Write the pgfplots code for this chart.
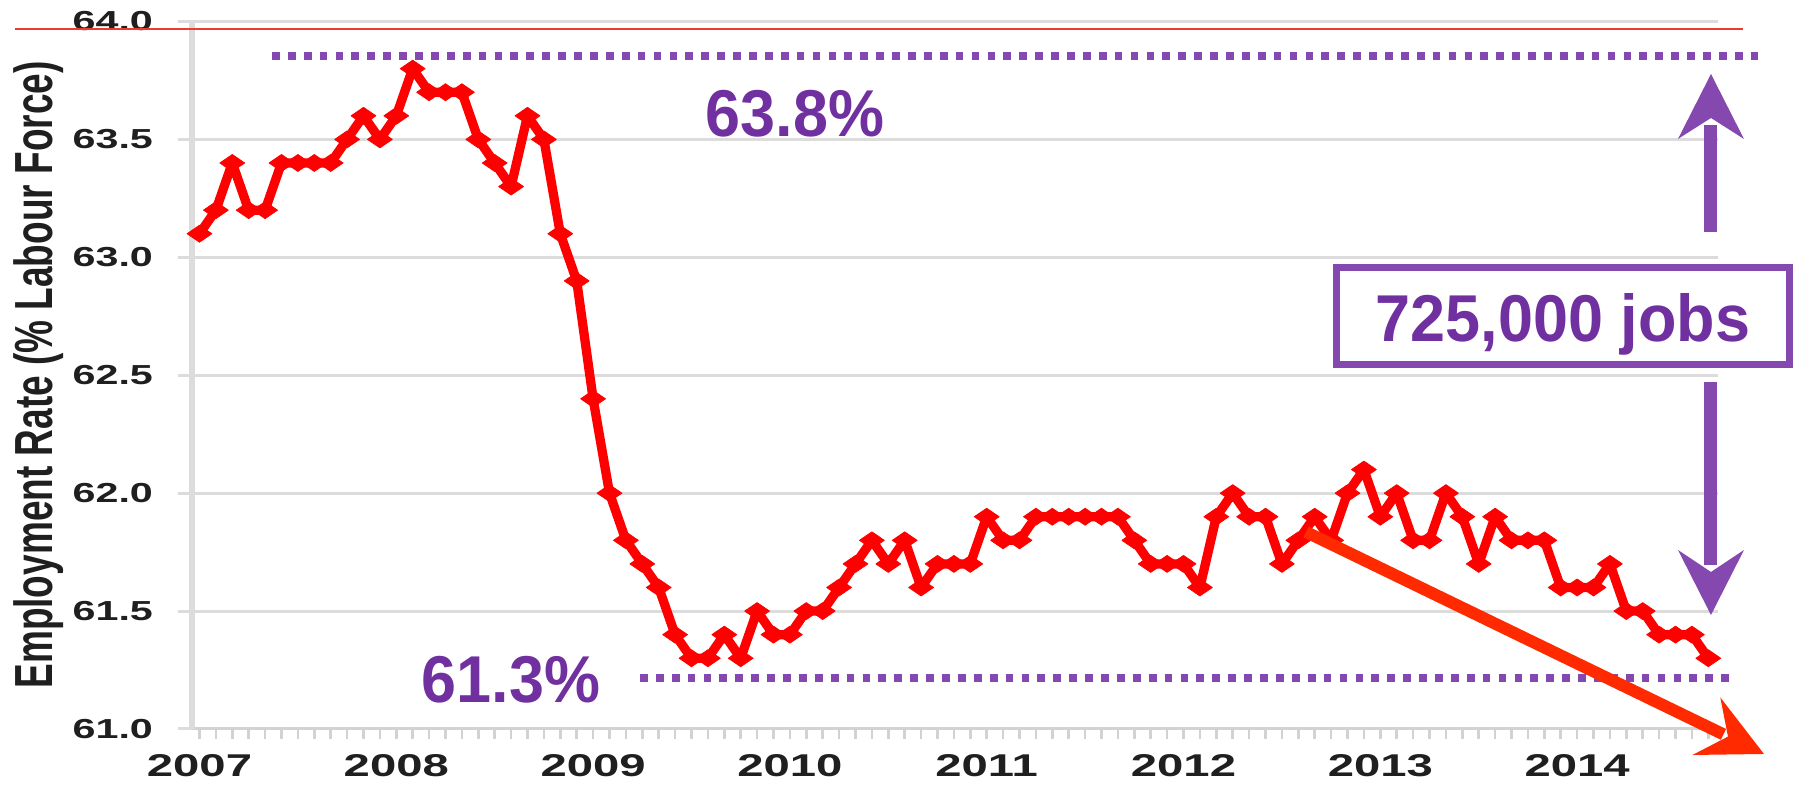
\documentclass[border=0pt]{standalone}
\usepackage{fontspec}
\setmainfont{Liberation Sans}
\newfontfamily\tickfont[FakeStretch=1.5]{Liberation Sans}
\newfontfamily\annfont[FakeStretch=0.95]{Liberation Sans}
\usepackage{graphicx}
\usepackage{pgfplots}
\usepackage{pgfplotstable}
\pgfplotsset{compat=1.18}
\definecolor{gridgray}{HTML}{DCDCDC}
\definecolor{axgray}{HTML}{D2D2D2}
\definecolor{annpurple}{HTML}{8548AE}
\definecolor{txtpurple}{HTML}{7030A0}
\definecolor{arrred}{HTML}{FF2A00}
\definecolor{datared}{HTML}{FF0000}
\definecolor{thinred}{HTML}{EE3B30}

\pgfplotstableread{
m v
0 63.1
1 63.2
2 63.4
3 63.2
4 63.2
5 63.4
6 63.4
7 63.4
8 63.4
9 63.5
10 63.6
11 63.5
12 63.6
13 63.8
14 63.7
15 63.7
16 63.7
17 63.5
18 63.4
19 63.3
20 63.6
21 63.5
22 63.1
23 62.9
24 62.4
25 62.0
26 61.8
27 61.7
28 61.6
29 61.4
30 61.3
31 61.3
32 61.4
33 61.3
34 61.5
35 61.4
36 61.4
37 61.5
38 61.5
39 61.6
40 61.7
41 61.8
42 61.7
43 61.8
44 61.6
45 61.7
46 61.7
47 61.7
48 61.9
49 61.8
50 61.8
51 61.9
52 61.9
53 61.9
54 61.9
55 61.9
56 61.9
57 61.8
58 61.7
59 61.7
60 61.7
61 61.6
62 61.9
63 62.0
64 61.9
65 61.9
66 61.7
67 61.8
68 61.9
69 61.8
70 62.0
71 62.1
72 61.9
73 62.0
74 61.8
75 61.8
76 62.0
77 61.9
78 61.7
79 61.9
80 61.8
81 61.8
82 61.8
83 61.6
84 61.6
85 61.6
86 61.7
87 61.5
88 61.5
89 61.4
90 61.4
91 61.4
92 61.3
}\emp

\begin{document}
\begin{tikzpicture}
\begin{axis}[
  at={(76.8pt,23.2pt)}, anchor=south west,
  scale only axis, width=610.4pt, height=283pt,
  xmin=-0.457, xmax=92.59, ymin=61, ymax=64,
  axis x line*=bottom, axis y line*=left,
  axis line style={-},
  x axis line style={line width=1.2pt, draw=axgray},
  y axis line style={line width=2.7pt, draw=gridgray},
  ytick={61,61.5,62,62.5,63,63.5,64},
  yticklabels={61.0,61.5,62.0,62.5,63.0,63.5,64.0},
  xtick={0,12,24,36,48,60,72,84},
  xticklabels={2007,2008,2009,2010,2011,2012,2013,2014},
  minor xtick={0,1,...,92},
  ymajorgrids,
  major grid style={line width=1.2pt, draw=gridgray},
  tick align=outside,
  major tick length=5.6pt, minor tick length=4pt,
  every major x tick/.append style={draw=none},
  every minor x tick/.append style={line width=1pt, draw=axgray},
  every major y tick/.append style={line width=1.2pt, draw=gridgray},
  yticklabel style={font=\tickfont\bfseries\fontsize{11}{13}\selectfont, text=black!88, xshift=-6.5pt},
  xticklabel style={font=\tickfont\bfseries\fontsize{12.6}{14}\selectfont, text=black!88, yshift=-1.2pt},
  clip=false,
]
\addplot[datared, line width=3.7pt, line join=round, mark=diamond*, mark size=3.4pt,
  mark options={fill=datared, draw=datared, line width=0.3pt, xscale=1.95, solid}]
  table[x=m,y=v]{\emp};
\end{axis}
\begin{scope}[x=0.4pt,y=-0.4pt,yshift=314.8pt]
 \draw[thinred, line width=0.7pt] (15,29) -- (1743,29);
 \draw[annpurple, line width=3.2pt, dash pattern=on 3.1pt off 3.26pt] (272,56) -- (1765,56);
 \draw[annpurple, line width=3.2pt, dash pattern=on 3.1pt off 3.26pt] (640,678.5) -- (1729,678.5);
 \node[txtpurple, font=\annfont\bfseries\fontsize{26.5}{30}\selectfont, anchor=base, inner sep=0pt] at (795,137) {63.8\%};
 \node[txtpurple, font=\annfont\bfseries\fontsize{26.5}{30}\selectfont, anchor=base, inner sep=0pt] at (511,703) {61.3\%};
 % up arrow
 \fill[annpurple] (1704.5,232) rectangle (1717.5,125);
 \fill[annpurple] (1711,74) -- (1744,139) -- (1711,118) -- (1678,139) -- cycle;
 % down arrow
 \fill[annpurple] (1704.5,382) rectangle (1717.5,565);
 \fill[annpurple] (1711,615) -- (1744,550) -- (1711,572) -- (1678,550) -- cycle;
 % box
 \draw[annpurple, line width=2.8pt, fill=white] (1336.5,267.5) rectangle (1789.5,364.5);
 \node[txtpurple, font=\annfont\bfseries\fontsize{26.5}{30}\selectfont, anchor=base, inner sep=0pt] at (1563,342) {725,000 jobs};
 % red arrow
 \draw[arrred, line width=4.8pt] (1306,532) -- (1723.5,734.4);
 \fill[arrred] (1764,754) -- (1720.3,697.4) -- (1728,736.6) -- (1692.5,755) -- cycle;
 % y label
 \node[rotate=90, anchor=base, inner sep=0pt, font=\bfseries\fontsize{14.8}{17}\selectfont, text=black!88] at (53,375) {\scalebox{1}[1.45]{Employment Rate (\% Labour Force)}};
\end{scope}
\pgfresetboundingbox
\path[use as bounding box] (0,0) rectangle (720.8pt,314.8pt);
\end{tikzpicture}
\end{document}
